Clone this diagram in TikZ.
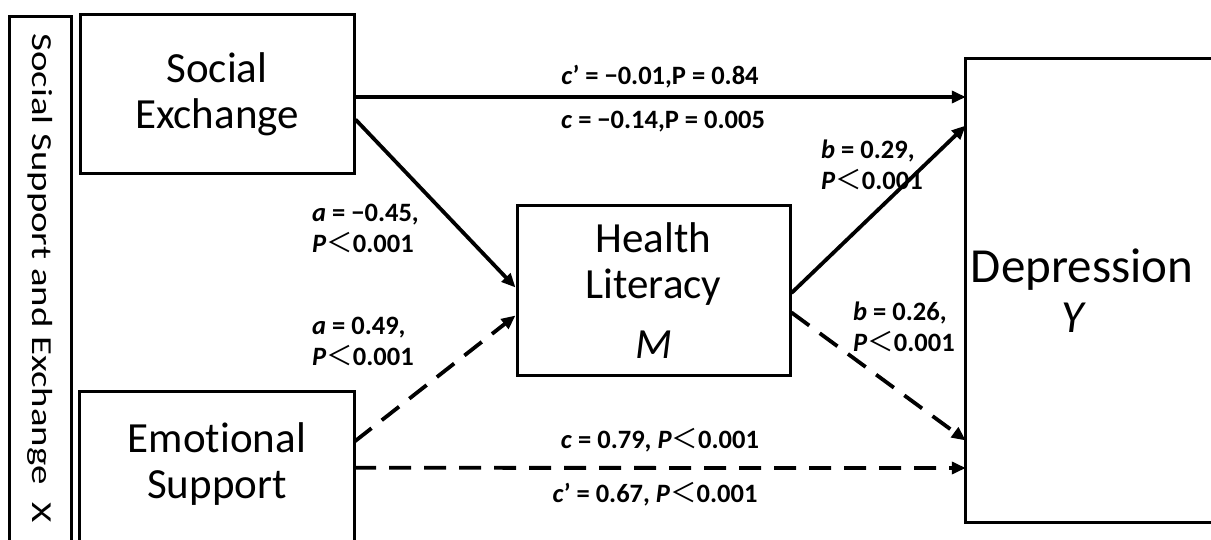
\documentclass[tikz,border=0pt]{standalone}
\usepackage{fontspec}
\setmainfont{Carlito}[Ligatures=NoCommon]
\newfontfamily\cjk{Noto Sans CJK SC}
\usetikzlibrary{calc,arrows.meta}
\newcommand{\lessmark}{{\cjk\mdseries\upshape ＜}}

\tikzset{
	frame/.style={line width=3pt},
	box/.style={inner sep=0pt, align=center, font=\fontsize{43}{46}\selectfont},
	link/.style={line width=3.8pt, -{Triangle[length=14pt,width=12pt]}},
	dashlink/.style={link, dash pattern=on 22pt off 13pt},
	coef/.style={inner sep=0pt, align=left, font=\fontsize{26.5}{31}\selectfont\bfseries},
}

\begin{document}
\begin{tikzpicture}[x=1pt,y=-1pt]
			%%%%% START %%%%%
			\useasboundingbox (0,0) rectangle (1211,540);
			
			% X side box
			\draw[frame] (9,560) |- (71,17) -- (71,560);
			\node[rotate=-90, inner sep=0pt, font=\fontsize{29}{30}\selectfont] (xlab) at (40,278) {\scalebox{1.34}[1]{Social Support and Exchange\ \ X}};
			
			% boxes
			\node[box, draw, frame, minimum width=274pt, minimum height=159pt] (se) at (217,94.5) {Social\\Exchange};
			\node[box, minimum width=274pt, minimum height=144pt] (es) at (217,464) {Emotional\\Support};
			\draw[frame] ($(es.south west)+(0,20)$) |- (es.north east) -- ($(es.south east)+(0,20)$);
			
			\node[box, draw, frame, minimum width=273pt, minimum height=169pt] (hl) at (653.5,290.5) {Health\\Literacy\\[14pt]\textit{M}};
			
			\node[box, font=\fontsize{49}{50}\selectfont, minimum width=232pt, minimum height=463pt] (dep) at (1082,290.5) {Depression\\\hspace*{-16pt}\fontsize{46}{50}\selectfont\textit{Y}};
			\draw[frame] ($(dep.north east)+(30,0)$) -| (dep.south west) -- ($(dep.south east)+(30,0)$);
			
			% paths
			\draw[link] ($(se.east)+(0,2.5)$) -- ($(dep.west)+(0,-193.5)$);
			\draw[link] ($(se.south east)+(0,-56)$) -- ($(hl.west)+(0,-3)$);
			\draw[dashlink] ($(es.north east)+(0,50)$) -- ($(hl.west)+(0,25)$);
			\draw[dashlink] ($(es.north east)+(0,76)$) -- ($(dep.west)+(0,177.5)$);
			\draw[link] ($(hl.east)+(0,2.5)$) -- ($(dep.west)+(0,-165)$);
			\draw[dashlink] ($(hl.east)+(0,22)$) -- ($(dep.west)+(0,150)$);
			
			% coefficients
			\node[coef] (c1) at (660,77) {\textit{c}’ = −0.01,P = 0.84};
			\node[coef] (c2) at (663,122) {\textit{c} = −0.14,P = 0.005};
			\node[coef, anchor=west] (a1) at (312,228) {\textit{a} = −0.45,\\\textit{P}\lessmark0.001};
			\node[coef, anchor=west] (a2) at (312,341) {\textit{a} = 0.49,\\\textit{P}\lessmark0.001};
			\node[coef, anchor=west] (b1) at (821,165) {\textit{b} = 0.29,\\\textit{P}\lessmark0.001};
			\node[coef, anchor=west] (b2) at (853,327) {\textit{b} = 0.26,\\\textit{P}\lessmark0.001};
			\node[coef] (c3) at (660,440) {\textit{c} = 0.79, \textit{P}\lessmark0.001};
			\node[coef] (c4) at (655,494) {\textit{c}’ = 0.67, \textit{P}\lessmark0.001};
			
			%%%%% END %%%%%
\end{tikzpicture}
\end{document}
